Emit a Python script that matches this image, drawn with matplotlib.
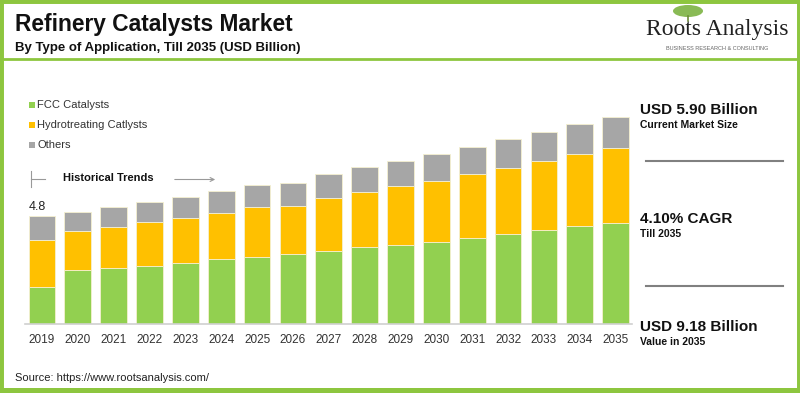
import matplotlib
matplotlib.use("Agg")
import matplotlib.pyplot as plt
from matplotlib.patches import Rectangle, Ellipse
import numpy as np

years = ["2019", "2020", "2021", "2022", "2023", "2024", "2025", "2026", "2027",
         "2028", "2029", "2030", "2031", "2032", "2033", "2034", "2035"]
fcc = [1.66, 2.40, 2.50, 2.59, 2.72, 2.88, 2.99, 3.11, 3.23, 3.41, 3.51, 3.66,
       3.84, 3.99, 4.18, 4.34, 4.50]
hydro = [2.07, 1.75, 1.82, 1.93, 1.99, 2.07, 2.20, 2.15, 2.38, 2.46, 2.61, 2.71,
         2.82, 2.95, 3.05, 3.20, 3.31]
others = [1.07, 0.83, 0.89, 0.90, 0.95, 0.96, 1.01, 1.02, 1.07, 1.10, 1.12, 1.19,
          1.20, 1.28, 1.29, 1.33, 1.37]
series_names = ["FCC Catalysts", "Hydrotreating Catlysts", "Others"]
series_colors = ["#92D050", "#FFC000", "#A6A6A6"]
first_label = "4.8"

W, H = 800, 393
fig = plt.figure(figsize=(W / 100, H / 100), dpi=100)
plt.rcParams['font.family'] = ['Liberation Sans', 'DejaVu Sans']

def fx(px):
    return px / W

def fy(py):
    return 1 - py / H

# Border & header line
border = "#8DC63F"
fig.patches.append(Rectangle((0, 0), 1, 1, transform=fig.transFigure, fill=False,
                             edgecolor=border, linewidth=5, zorder=10))
fig.patches.append(Rectangle((0, 0), 1, fy(388), transform=fig.transFigure,
                             facecolor=border, edgecolor='none', zorder=10))
fig.add_artist(plt.Line2D([0, 1], [fy(59), fy(59)], color=border, lw=2,
                          transform=fig.transFigure))

# Titles
fig.text(fx(15), fy(25), "Refinery Catalysts Market", fontsize=16.4, fontweight='bold',
         va='center', ha='left', color='#111111')
fig.text(fx(15), fy(48), "By Type of Application, Till 2035 (USD Billion)", fontsize=9.5,
         fontweight='bold', va='center', ha='left', color='#111111')

# Logo
fig.patches.append(Ellipse((fx(688), fy(11)), 30 / W, 12 / H, transform=fig.transFigure,
                           facecolor='#7CB342', edgecolor='none', alpha=0.9))
fig.add_artist(plt.Line2D([fx(688), fx(688)], [fy(16), fy(21)], color='#6D8B3A', lw=1.2,
                          transform=fig.transFigure))
fig.text(fx(717), fy(30), "Roots Analysis", fontsize=17, family='Liberation Serif',
         va='center', ha='center', color='#222222')
fig.text(fx(717), fy(48), "BUSINESS RESEARCH & CONSULTING", fontsize=4.0,
         va='center', ha='center', color='#666666')

# Axes
ax_l, ax_r, ax_t, ax_b = 25, 632, 100, 324
ax = fig.add_axes([fx(ax_l), fy(ax_b), (ax_r - ax_l) / W, (ax_b - ax_t) / H])
unit = (615.7 - 42) / 16
ax.set_xlim(-(42 - ax_l) / unit, 16 + (ax_r - 615.7) / unit)
ax.set_ylim(0, (ax_b - ax_t) / 22.5)
x = np.arange(len(years))
bw = 0.745
bottom = np.zeros(len(years))
for vals, col in zip([fcc, hydro, others], series_colors):
    ax.bar(x, vals, bw, bottom=bottom, color=col, edgecolor='#F5F0D0', linewidth=0.6)
    bottom += np.array(vals)
ax.set_xticks(x)
ax.set_xticklabels(years, fontsize=8.5, color='#333333')
ax.tick_params(axis='x', length=0, pad=7)
ax.set_yticks([])
for s in ['top', 'right', 'left']:
    ax.spines[s].set_visible(False)
ax.spines['bottom'].set_color('#D0D0D0')
ax.spines['bottom'].set_linewidth(1.2)
ax.text(x[0] - bw / 2, bottom[0] + 0.15, first_label, fontsize=9, color='#222222',
        ha='left', va='bottom')

# Legend
for i, (name, col) in enumerate(zip(series_names, series_colors)):
    yy = 105 + 20 * i
    fig.patches.append(Rectangle((fx(29), fy(yy + 3)), 6 / W, 6 / H,
                                 transform=fig.transFigure, facecolor=col, edgecolor='none'))
    fig.text(fx(37), fy(yy), name, fontsize=8, va='center', ha='left', color='#333333')

# Historical trends
fig.add_artist(plt.Line2D([fx(31), fx(31)], [fy(171), fy(187)], color='#999999', lw=0.8,
                          transform=fig.transFigure))
fig.add_artist(plt.Line2D([fx(31), fx(45)], [fy(179), fy(179)], color='#999999', lw=0.8,
                          transform=fig.transFigure))
fig.text(fx(63), fy(178), "Historical Trends", fontsize=8, fontweight='bold',
         va='center', ha='left', color='#111111')
fig.add_artist(matplotlib.patches.FancyArrowPatch((fx(172), fy(179.5)), (fx(218), fy(179.5)),
               transform=fig.transFigure, arrowstyle='->', mutation_scale=7,
               color='#999999', lw=0.8))

# Right panel
def block(y1, big, small):
    fig.text(fx(640), fy(y1), big, fontsize=11, fontweight='bold', va='center',
             ha='left', color='#111111')
    fig.text(fx(640), fy(y1 + 15), small, fontsize=7.5, fontweight='bold', va='center',
             ha='left', color='#111111')

block(110, "USD 5.90 Billion", "Current Market Size")
block(219, "4.10% CAGR", "Till 2035")
block(327, "USD 9.18 Billion", "Value in 2035")
for yy in [160.5, 286]:
    fig.add_artist(plt.Line2D([fx(646), fx(783)], [fy(yy), fy(yy)], color='#808080', lw=1.5,
                              transform=fig.transFigure))

fig.text(fx(15), fy(378), "Source: https://www.rootsanalysis.com/", fontsize=8,
         va='center', ha='left', color='#222222')

fig.savefig("out.png", dpi=100)
